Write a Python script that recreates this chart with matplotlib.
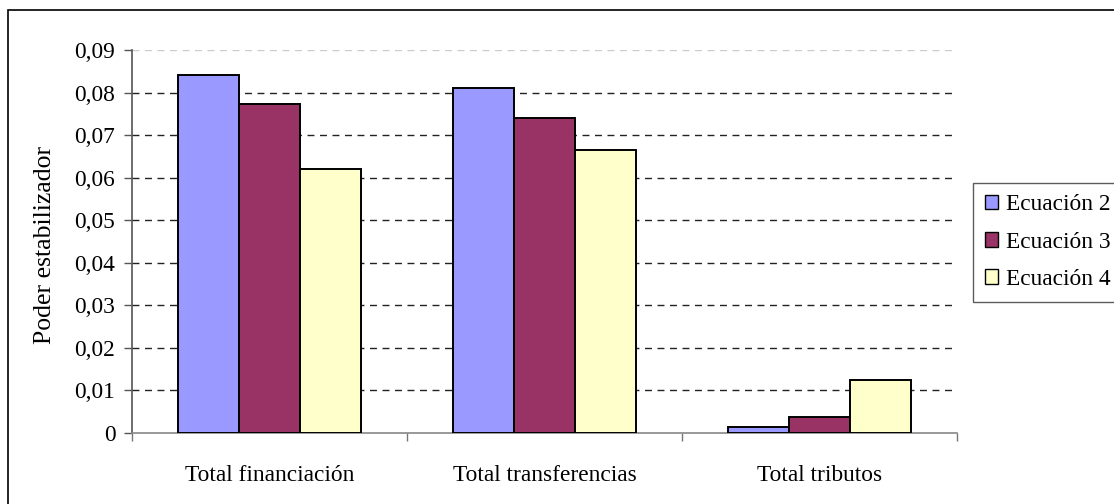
import matplotlib.pyplot as plt
from matplotlib.patches import Rectangle
import numpy as np

# Poder estabilizador por partida y ecuación
categorias = ['Total financiación', 'Total transferencias', 'Total tributos']
series = ['Ecuación 2', 'Ecuación 3', 'Ecuación 4']
ecuacion_2 = [0.0842, 0.0811, 0.0015]
ecuacion_3 = [0.0774, 0.0740, 0.0038]
ecuacion_4 = [0.0621, 0.0666, 0.0124]
colores = ['#9999FF', '#993366', '#FFFFCC']

y_ticks = [0, 0.01, 0.02, 0.03, 0.04, 0.05, 0.06, 0.07, 0.08, 0.09]
y_labels = ['0', '0,01', '0,02', '0,03', '0,04', '0,05', '0,06', '0,07', '0,08', '0,09']

plt.rcParams['font.family'] = ['Liberation Serif', 'DejaVu Serif']
fs = 16.8

fig = plt.figure(figsize=(11.14, 5.04), dpi=100)
ax = fig.add_axes([132 / 1114, 71 / 504, (957 - 132) / 1114, (433 - 50) / 504])

x = np.arange(len(categorias))
w = 1 / 4.5  # gap width 150 %
valores = [ecuacion_2, ecuacion_3, ecuacion_4]
for i, (nombre, vals) in enumerate(zip(series, valores)):
    ax.bar(x + (i - 1) * w, vals, width=w, color=colores[i], edgecolor='black',
           linewidth=1.4, label=nombre, zorder=3)

ax.set_xlim(-0.5, 2.5)
ax.set_ylim(0, 0.09)

# dashed horizontal gridlines
for t in y_ticks[1:-1]:
    ax.axhline(t, color='#222222', linestyle=(0, (5, 4)), linewidth=1.0, zorder=1)
ax.axhline(0.09, color='#cccccc', linestyle=(0, (5, 4)), linewidth=1.0, zorder=1)

ax.set_yticks(y_ticks)
ax.set_yticklabels(y_labels, fontsize=fs)
ax.tick_params(axis='y', length=6, width=1, color='#555555', pad=6)

ax.set_xticks(x)
ax.set_xticklabels(categorias, fontsize=fs)
ax.tick_params(axis='x', which='major', length=0, pad=23)
ax.set_xticks([-0.5, 0.5, 1.5, 2.5], minor=True)
ax.tick_params(axis='x', which='minor', length=6, width=1, color='#777777')

for s in ['top', 'right']:
    ax.spines[s].set_visible(False)
ax.spines['left'].set_color('#555555')
ax.spines['bottom'].set_color('#888888')
ax.spines['left'].set_linewidth(1.2)
ax.spines['bottom'].set_linewidth(1.2)

ax.set_ylabel('Poder estabilizador', fontsize=18.5)
ax.yaxis.set_label_coords(-76 / 825, 0.49)

leg = ax.legend(loc='center left', bbox_to_anchor=(973 / 1114, (504 - 242) / 504),
                bbox_transform=fig.transFigure, borderaxespad=0, fontsize=fs,
                frameon=True, fancybox=False, edgecolor='#333333',
                handlelength=0.58, handleheight=0.58, handletextpad=0.35,
                labelspacing=0.7, borderpad=0.5)
leg.get_frame().set_linewidth(1.0)
for h in leg.legend_handles:
    h.set_linewidth(1.0)

# outer chart border, running past the right and bottom edges
fig.add_artist(Rectangle((7.5 / 1114, -0.1), 1.2, 1.1 - 10.5 / 504,
                         transform=fig.transFigure, fill=False,
                         edgecolor='black', linewidth=1.2, clip_on=False))

fig.savefig('out.png', dpi=100)
